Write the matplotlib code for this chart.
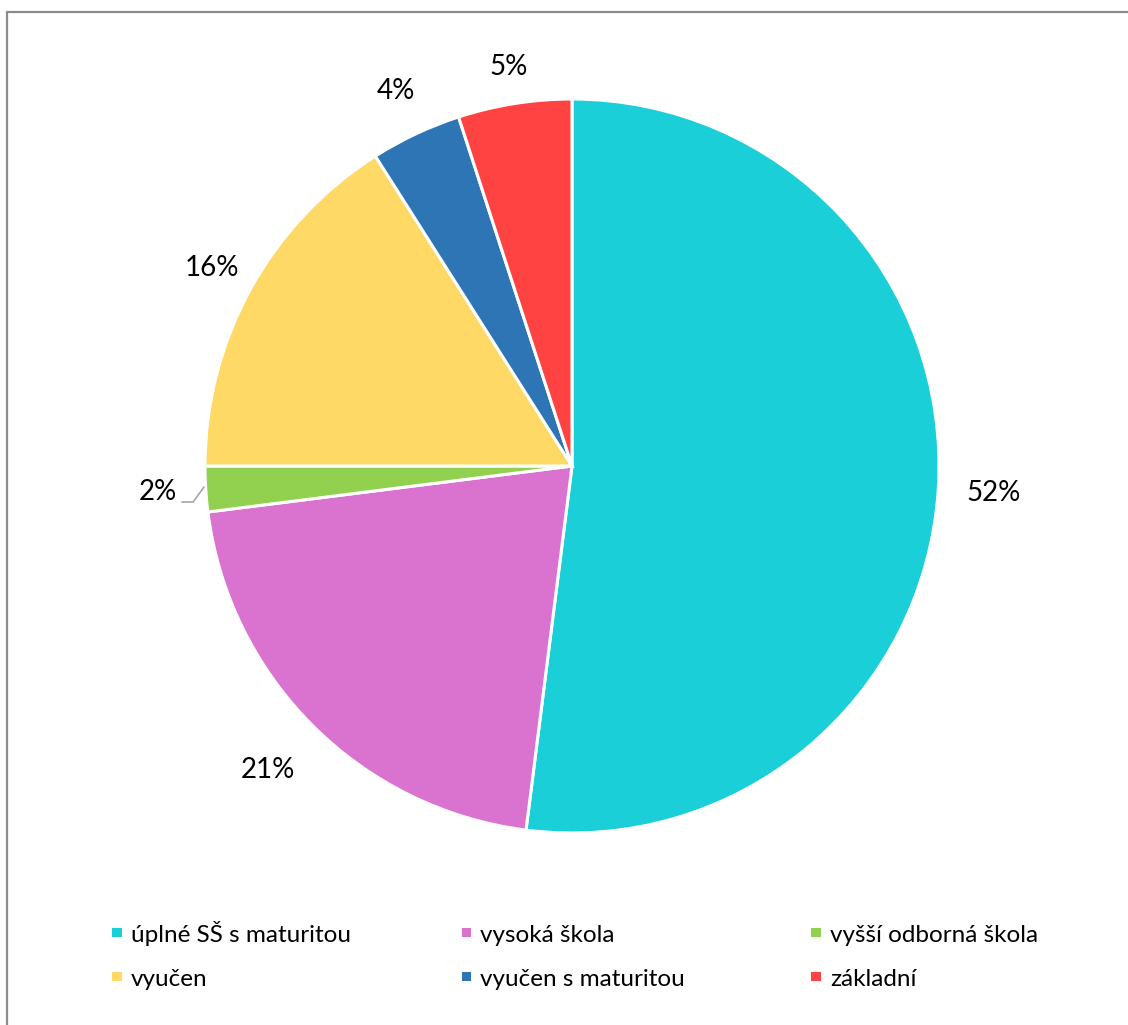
import math

import matplotlib
matplotlib.use("Agg")
from matplotlib import pyplot as plt
from matplotlib.patches import Rectangle

# -- data --

categories = ["úplné SŠ s maturitou", "vysoká škola", "vyšší odborná škola",
              "vyučen", "vyučen s maturitou", "základní"]
shares = [52, 21, 2, 16, 4, 5]
colors = ["#1BCFD8", "#DA73D0", "#92D050", "#FFD966", "#2E75B6", "#FF4343"]
# how far out each percentage label sits, in pie radii
label_radius = [1.15, 1.17, 1.13, 1.12, 1.13, 1.10]

W, H = 1128, 1025
plt.rcParams["font.family"] = ["Lato", "DejaVu Sans"]

fig = plt.figure(figsize=(W / 100, H / 100), dpi=100)
ax = fig.add_axes([0, 0, 1, 1])

# outer frame, its right and bottom edge run off the canvas
ax.add_patch(Rectangle((7, -20), W + 20, H - 12 + 20, fill=False,
                       edgecolor="#8c8c8c", linewidth=1.6))

cx, cy, r = 572, H - 466, 367

wedges, _ = ax.pie(shares, colors=colors, startangle=90, counterclock=False,
                   center=(cx, cy), radius=r,
                   wedgeprops=dict(edgecolor="white", linewidth=2.2))
ax.set_xlim(0, W)
ax.set_ylim(0, H)
ax.set_aspect("equal")
ax.axis("off")

# percentage labels around the pie
for w, val, k in zip(wedges, shares, label_radius):
    mid = math.radians((w.theta1 + w.theta2) / 2)
    dx, dy = math.cos(mid), math.sin(mid)
    lx, ly = cx + k * r * dx, cy + k * r * dy
    if val < 3:
        # small slice gets a leader line
        ex, ey = cx + 1.005 * r * dx, cy + 1.005 * r * dy
        ax.plot([lx + 24, lx + 35, ex], [ly - 10, ly - 10, ey + 2],
                color="#a6a6a6", linewidth=1.2)
    ax.text(lx, ly, f"{val}%", ha="center", va="center", fontsize=20,
            color="black")

# legend, three columns of two rows
for i, (name, c) in enumerate(zip(categories, colors)):
    col, row = i % 3, i // 3
    mx = 112 + col * 349.5
    base = H - (942 + row * 44)
    ax.add_patch(Rectangle((mx, base + 5), 9.5, 9.5, facecolor=c,
                           edgecolor="none"))
    ax.text(mx + 19, base, name, ha="left", va="baseline", fontsize=17.5,
            color="black")

fig.savefig("out.png", dpi=100)
